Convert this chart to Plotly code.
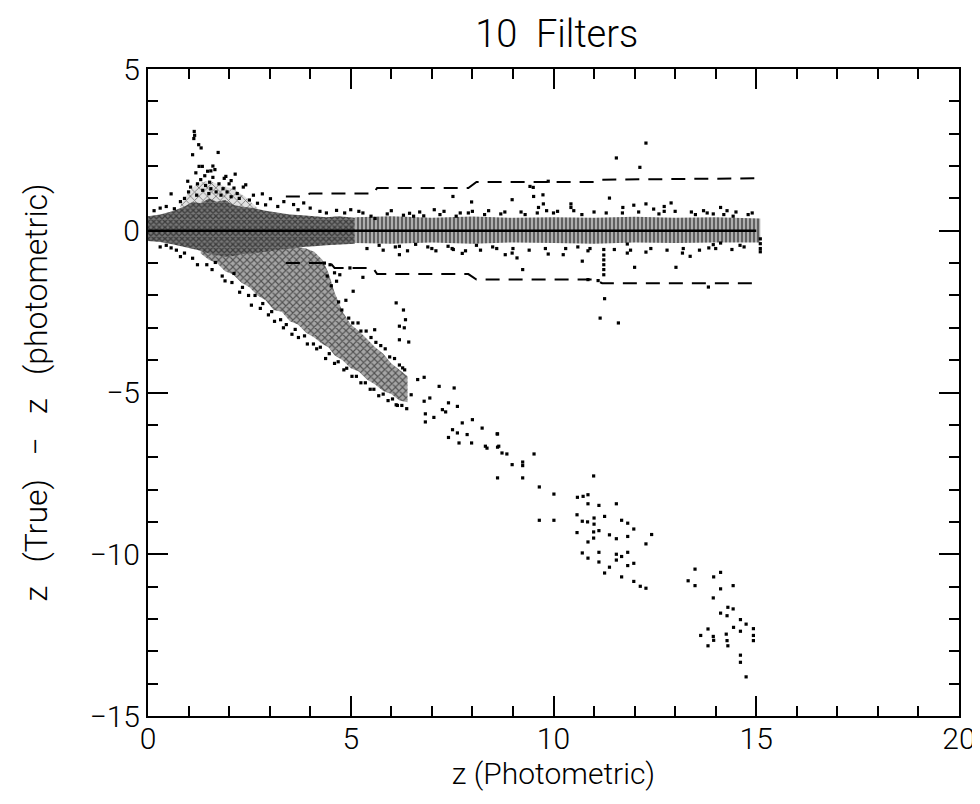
import plotly.graph_objects as go

# ---------------- data ----------------
# dense core band (x 0..5.1)
core_x  = [0.0, 0.3, 0.6, 0.9, 1.1, 1.3, 1.5, 1.7, 1.9, 2.1, 2.3, 2.6, 2.9, 3.2, 3.5, 3.8, 4.1, 4.4, 4.7, 5.1]
core_hi = [0.45, 0.5, 0.6, 0.75, 0.9, 0.85, 1.0, 0.9, 0.95, 0.8, 0.75, 0.7, 0.62, 0.55, 0.5, 0.48, 0.45, 0.42,
           0.45, 0.4]
core_lo = [-0.32, -0.35, -0.42, -0.5, -0.55, -0.62, -0.7, -0.75, -0.8, -0.78, -0.72, -0.7, -0.65, -0.6, -0.55,
           -0.5, -0.48, -0.45, -0.42, -0.4]

# scattered halo above the core (x 0.8..2.7)
halo_x  = [0.8, 1.0, 1.2, 1.5, 1.8, 2.1, 2.4, 2.7]
halo_hi = [0.8, 1.2, 1.45, 1.55, 1.4, 1.3, 1.05, 0.7]
halo_lo = [0.65, 0.8, 0.85, 0.9, 0.9, 0.8, 0.72, 0.65]

# diverging lower wedge and branch (dense part)
wedge_x  = [1.3, 1.5, 1.7, 1.9, 2.1, 2.3, 2.5, 2.7, 2.9, 3.1, 3.3, 3.5, 3.7, 3.9, 4.1, 4.3, 4.45, 4.6,
            4.8, 5.0, 5.2, 5.4, 5.6, 5.8, 6.0, 6.2, 6.4]
wedge_hi = [-0.5, -0.55, -0.6, -0.65, -0.62, -0.6, -0.62, -0.6, -0.55, -0.58, -0.55, -0.52, -0.5, -0.55,
            -0.65, -0.9, -1.3, -1.9, -2.5, -2.9, -3.1, -3.35, -3.6, -3.8, -4.1, -4.3, -4.5]
wedge_lo = [-0.7, -0.9, -1.0, -1.25, -1.35, -1.6, -1.75, -2.0, -2.15, -2.45, -2.5, -2.8, -2.9, -3.15, -3.3,
            -3.5, -3.6, -3.85, -4.0, -4.25, -4.35, -4.6, -4.75, -4.95, -5.05, -5.25, -5.3]

# sparser band of columns (x 5.1..15.1)
band_x  = [5.1, 6.0, 7.0, 8.0, 9.0, 10.0, 11.0, 12.0, 13.0, 14.0, 15.1]
band_hi = [0.42, 0.45, 0.4, 0.44, 0.4, 0.42, 0.4, 0.43, 0.4, 0.42, 0.38]
band_lo = [-0.38, -0.4, -0.36, -0.4, -0.36, -0.38, -0.4, -0.36, -0.38, -0.36, -0.36]

# individual points outside the dense regions
upper_pts_x = [0.15, 0.3, 0.45, 0.57, 0.65, 0.8, 0.9, 0.98, 1.0, 1.05, 1.1, 1.13, 1.14, 1.15, 1.18, 1.2, 1.22,
               1.25, 1.26, 1.3, 1.31, 1.34, 1.35, 1.4, 1.42, 1.47, 1.5, 1.52, 1.55, 1.6, 1.65, 1.68, 1.73, 1.75,
               1.8, 1.85, 1.92, 1.95, 2.0, 2.05, 2.12, 2.2, 2.25, 2.35, 2.41, 2.5, 2.6, 2.7, 2.82, 2.9, 3.02,
               3.2, 3.35, 3.59, 3.7, 3.84, 4.0, 4.24, 4.4, 4.65, 4.85, 5.0, 1.88, 2.05, 2.15, 1.6, 1.55]
upper_pts_y = [0.62, 0.7, 0.75, 1.14, 0.68, 0.9, 1.0, 1.53, 1.2, 1.35, 2.35, 2.85, 3.07, 2.95, 1.79, 1.1, 1.45,
               2.66, 1.99, 1.58, 2.56, 1.99, 1.25, 1.7, 1.4, 1.84, 1.15, 1.5, 1.3, 1.65, 1.89, 1.2, 2.42, 1.45,
               1.1, 1.3, 1.68, 1.2, 1.45, 1.05, 1.32, 1.15, 1.0, 1.35, 1.42, 0.95, 1.1, 0.85, 1.14, 0.8, 0.99,
               0.75, 0.9, 0.81, 0.65, 0.86, 0.7, 0.6, 0.55, 0.63, 0.55, 0.65, 1.62, 1.55, 1.75, 2.0, 1.85]

wedge_pts_x = [0.3, 0.45, 0.57, 0.7, 0.8, 0.9, 1.1, 1.22,
               1.45, 1.58, 1.66, 1.83, 1.9, 2.07, 2.12, 2.26, 2.33, 2.48, 2.55, 2.64, 2.77, 2.83, 2.97, 3.05,
               3.12, 3.27, 3.34, 3.41, 3.55, 3.63, 3.71, 3.86, 3.93, 4.08, 4.16, 4.25, 4.38, 4.47, 4.6, 4.69,
               4.83, 4.9, 5.03, 5.14, 5.25, 5.36, 5.48, 5.57, 5.69, 5.8, 5.92, 6.03, 6.15, 6.26, 6.38,
               4.35, 4.42, 4.52, 4.6, 4.7, 4.78, 4.88, 4.95, 5.05, 5.18, 5.25, 5.38, 5.5, 5.62, 5.74, 5.85,
               5.96, 6.08, 6.2, 6.33,
               4.49, 4.73, 4.65, 5.06, 5.3, 4.98, 6.12, 6.2, 6.32, 6.2, 6.43, 5.59, 6.28, 6.65, 6.81, 6.49,
               6.12, 6.81, 6.95, 6.2, 7.53, 6.35, 6.3]
wedge_pts_y = [-0.5, -0.45, -0.53, -0.6, -0.8, -0.69, -0.85, -1.05,
               -1.05, -1.2, -0.98, -1.4, -1.55, -1.6, -1.32, -1.9, -1.75, -2.0, -2.3, -2.0, -2.4, -2.25,
               -2.6, -2.5, -2.8, -2.75, -3.0, -2.9, -3.2, -3.05, -3.3, -3.25, -3.5, -3.5, -3.65, -3.6,
               -3.95, -3.8, -4.1, -4.05, -4.3, -4.25, -4.5, -4.5, -4.7, -4.7, -4.9, -4.9, -5.1, -5.05,
               -5.25, -5.2, -5.4, -5.4, -5.5,
               -1.0, -1.4, -1.7, -1.3, -2.2, -2.45, -2.15, -2.7, -2.85, -2.85, -3.1, -3.1, -3.3, -3.45, -3.55,
               -3.65, -3.9, -3.95, -4.15, -4.3,
               -1.05, -1.36, -1.56, -1.87, -1.44, -1.15, -2.23, -2.95, -3.0, -3.37, -3.44, -3.06, -4.24, -4.6,
               -4.53, -5.07, -5.38, -5.27, -5.17, -0.74, -0.58, -2.75, -2.45]

branch_x = [7.18, 7.55, 7.41, 7.63, 7.26, 7.34, 7.05, 6.84, 6.84, 7.51, 7.63, 7.75, 8.0, 7.87, 8.24, 8.61,
            7.41, 7.67, 7.98, 8.32, 8.65, 8.62, 8.36, 8.62, 8.73, 8.85, 8.98, 9.24, 9.24, 9.52, 8.62, 9.24,
            9.65, 10.01, 9.65, 10.01, 10.99, 10.59, 10.73, 10.85, 10.85, 11.12, 11.55, 10.58, 10.71, 10.84,
            11.0, 11.0, 11.26, 10.58, 10.99, 11.12, 10.85, 10.99, 11.38, 11.55, 11.68, 11.83, 11.98, 11.83,
            12.42, 12.28, 10.71, 10.85, 11.12, 11.12, 11.38, 11.26, 11.55, 11.55, 11.68, 11.83, 11.83, 11.98,
            11.68, 11.98, 12.14, 12.28, 13.49, 13.32, 13.49, 13.95, 14.12, 14.43, 14.12, 13.94, 14.3, 14.43,
            14.12, 14.28, 14.61, 14.75, 14.44, 14.93, 14.61, 13.81, 13.63, 13.94, 13.95, 14.26, 14.28, 14.93,
            14.93, 13.81, 14.3, 14.61, 14.61, 14.75]
branch_y = [-4.81, -4.86, -5.32, -5.43, -5.53, -5.6, -5.77, -5.91, -5.66, -6.15, -6.25, -5.94, -5.84, -6.3,
            -6.1, -6.28, -6.39, -6.56, -6.56, -6.66, -6.66, -6.28, -6.72, -6.69, -6.87, -6.9, -7.23, -7.15,
            -7.26, -6.9, -7.64, -7.64, -7.92, -8.14, -8.95, -8.95, -7.58, -8.24, -8.21, -8.16, -8.44, -8.49,
            -8.44, -8.78, -8.98, -9.0, -8.88, -9.07, -8.83, -9.33, -9.31, -9.27, -9.62, -9.5, -9.4, -9.52,
            -8.95, -9.04, -9.22, -9.45, -9.39, -9.68, -9.96, -10.12, -9.94, -10.24, -10.4, -10.58, -10.0,
            -10.18, -10.07, -9.94, -10.35, -10.28, -10.7, -10.84, -10.99, -11.05, -10.46, -10.82, -10.97,
            -10.7, -10.56, -10.97, -11.07, -11.35, -11.64, -11.69, -11.82, -11.9, -12.02, -12.16, -12.26,
            -12.3, -12.38, -12.31, -12.51, -12.54, -12.66, -12.47, -12.67, -12.51, -12.67, -12.83, -12.83,
            -13.12, -13.34, -13.79]

band_pts_x = [5.3, 5.5, 5.7, 5.9, 6.1, 6.3, 6.45, 6.6, 6.8, 7.0, 7.06, 7.2, 7.4, 7.52, 7.6, 7.83, 7.9, 7.98,
              8.1, 8.3, 8.5, 8.7, 8.81, 8.98, 8.98, 9.1, 9.24, 9.3, 9.51, 9.63, 9.74, 9.75, 9.83, 9.87, 10.0,
              10.24, 10.43, 10.43, 10.6, 10.71, 10.85, 10.85, 11.1, 11.24, 11.24, 11.24, 11.24, 11.24, 11.24,
              11.26, 11.15, 11.6, 11.38, 11.71, 11.82, 11.82, 11.98, 12.0, 12.28, 12.28, 12.47, 12.73, 12.73,
              12.9, 13.02, 13.18, 13.37, 13.5, 13.79, 13.83, 13.82, 13.94, 13.94, 14.12, 14.12, 14.28, 14.43,
              14.6, 14.8, 15.1, 15.1, 15.1, 15.1, 12.28, 11.55, 12.13, 9.42, 9.5, 9.87,
              5.2, 5.4, 5.6, 5.8, 6.0, 6.2, 6.4, 6.55, 6.7, 6.9, 7.1, 7.3, 7.5, 7.7, 7.75, 8.0, 8.2, 8.4,
              8.6, 8.8, 9.0, 9.2, 9.4, 9.6, 9.8, 10.1, 10.3, 10.5, 10.7, 10.9, 11.0, 11.3, 11.5, 11.7, 11.9,
              12.1, 12.4, 12.6, 12.8, 13.0, 13.2, 13.4, 13.6, 13.7, 14.0, 14.2, 14.4, 14.5, 14.7, 14.9]
band_pts_y = [0.55, 0.45, -0.45, 0.52, -0.5, 0.48, 0.54, -0.42, 0.46, -0.55, 0.65, 0.5, -0.48, 1.06, 0.45,
              -0.62, 0.55, 0.89, -0.45, 0.5, -0.5, 0.52, -0.74, 0.96, -0.69, -0.84, -1.2, 0.5, 1.06, 0.72,
              1.11, 0.83, 0.62, -0.72, 0.55, -0.74, 0.83, 0.72, -0.5, -0.94, -0.62, -1.51, -1.54, -0.58,
              -0.75, -0.9, -1.05, -1.2, -1.36, -2.1, -2.7, -2.85, 1.01, 0.72, -0.41, -0.69, 0.79, -1.13,
              0.83, -0.66, 0.67, 0.75, 0.6, 0.86, -1.13, -0.69, -0.79, 0.5, 0.55, -0.53, -1.74, 0.52, -0.43,
              0.72, -0.38, 0.62, 0.45, -0.45, 0.5, -0.25, -0.4, -0.55, -0.65, 2.71, 2.25, 1.96, 1.37, 1.34,
              1.53,
              0.6, -0.55, 0.38, -0.6, 0.62, -0.48, -0.62, 0.45, 0.58, -0.5, -0.62, 0.6, -0.55, 0.55, -0.7,
              0.6, -0.6, 0.62, -0.55, 0.58, -0.55, 0.58, -0.6, 0.55, -0.55, 0.6, -0.55, 0.62, 0.5, -0.55,
              0.58, 0.55, -0.58, 0.55, -0.6, 0.58, -0.55, 0.52, -0.6, 0.6, -0.55, 0.58, -0.6, 0.62, -0.55,
              0.5, -0.58, 0.58, -0.5, 0.55]

# reference lines
zero_x = [0.0, 15.0]
zero_y = [0.0, 0.0]
dash_hi_x = [3.4, 3.75, 4.0, 5.55, 5.65, 7.9, 8.1, 11.0, 11.2, 15.0]
dash_hi_y = [1.06, 1.06, 1.15, 1.15, 1.32, 1.32, 1.51, 1.51, 1.58, 1.62]
dash_lo_x = [3.4, 4.5, 4.6, 5.55, 5.65, 7.9, 8.1, 11.0, 11.2, 15.0]
dash_lo_y = [-1.0, -1.0, -1.15, -1.15, -1.34, -1.34, -1.51, -1.51, -1.62, -1.62]

tick_vals_x = [0, 5, 10, 15, 20]
tick_text_x = ["0", "5", "10", "15", "20"]
tick_vals_y = [-15, -10, -5, 0, 5]
tick_text_y = ["\u221215", "\u221210", "\u22125", "0", "5"]

FONT = "Roboto, DejaVu Sans, sans-serif"
FW = 300
NB = "\u00a0"

fig = go.Figure()


def band(xs, hi, lo, shape, size, solidity, bg):
    fig.add_trace(go.Scatter(
        x=xs + xs[::-1], y=hi + lo[::-1], mode="lines", fill="toself",
        line=dict(width=0, color="rgba(0,0,0,0)"),
        fillcolor=bg,
        fillpattern=dict(shape=shape, size=size, solidity=solidity, fgcolor="black", bgcolor=bg),
        hoverinfo="skip"))


band(band_x, band_hi, band_lo, "|", 4, 0.45, "rgb(175,175,175)")
band(halo_x, halo_hi, halo_lo, "x", 6, 0.25, "rgb(225,225,225)")
band(wedge_x, wedge_hi, wedge_lo, "x", 5, 0.4, "rgb(165,165,165)")
band(core_x, core_hi, core_lo, "x", 4, 0.55, "rgb(120,120,120)")

for xs, ys in [(upper_pts_x, upper_pts_y), (wedge_pts_x, wedge_pts_y),
               (branch_x, branch_y), (band_pts_x, band_pts_y)]:
    fig.add_trace(go.Scatter(x=xs, y=ys, mode="markers",
                             marker=dict(symbol="square", size=3.2, color="black", line=dict(width=0))))

fig.add_trace(go.Scatter(x=zero_x, y=zero_y, mode="lines", line=dict(color="black", width=2.5)))
fig.add_trace(go.Scatter(x=dash_hi_x, y=dash_hi_y, mode="lines",
                         line=dict(color="black", width=2, dash="14px,9px")))
fig.add_trace(go.Scatter(x=dash_lo_x, y=dash_lo_y, mode="lines",
                         line=dict(color="black", width=2, dash="14px,9px")))

tfont = dict(family=FONT, size=30, color="black", weight=FW)
axis_common = dict(showgrid=False, zeroline=False, showline=True, linecolor="black", linewidth=2,
                   mirror="ticks", ticks="inside", ticklen=20, tickwidth=1.5, tickcolor="black",
                   tickfont=tfont)

fig.update_xaxes(range=[0, 20], tickvals=tick_vals_x, ticktext=tick_text_x, ticklabelstandoff=-5,
                 minor=dict(ticks="inside", ticklen=10, dtick=1, tickwidth=1.5, tickcolor="black"),
                 title=dict(text=f"z{NB}(Photometric)", font=tfont, standoff=0),
                 **axis_common)
fig.update_yaxes(range=[-15, 5], tickvals=tick_vals_y, ticktext=tick_text_y,
                 minor=dict(ticks="inside", ticklen=10, dtick=1, tickwidth=1.5, tickcolor="black"),
                 title=dict(text=f"z{NB*3}(True){NB*3}\u2212{NB*3}z{NB*3}(photometric)",
                            font=dict(family=FONT, size=32, color="black", weight=FW), standoff=32),
                 **axis_common)

fig.update_layout(
    width=980, height=804,
    margin=dict(l=140, r=23, t=61, b=96),
    paper_bgcolor="white", plot_bgcolor="white",
    showlegend=False,
    title=dict(text=f"10{NB*2}Filters", x=0.56, xanchor="center", y=0.968, yanchor="middle",
               font=dict(family=FONT, size=38, color="black", weight=FW)),
)

fig.write_html("out.html")
